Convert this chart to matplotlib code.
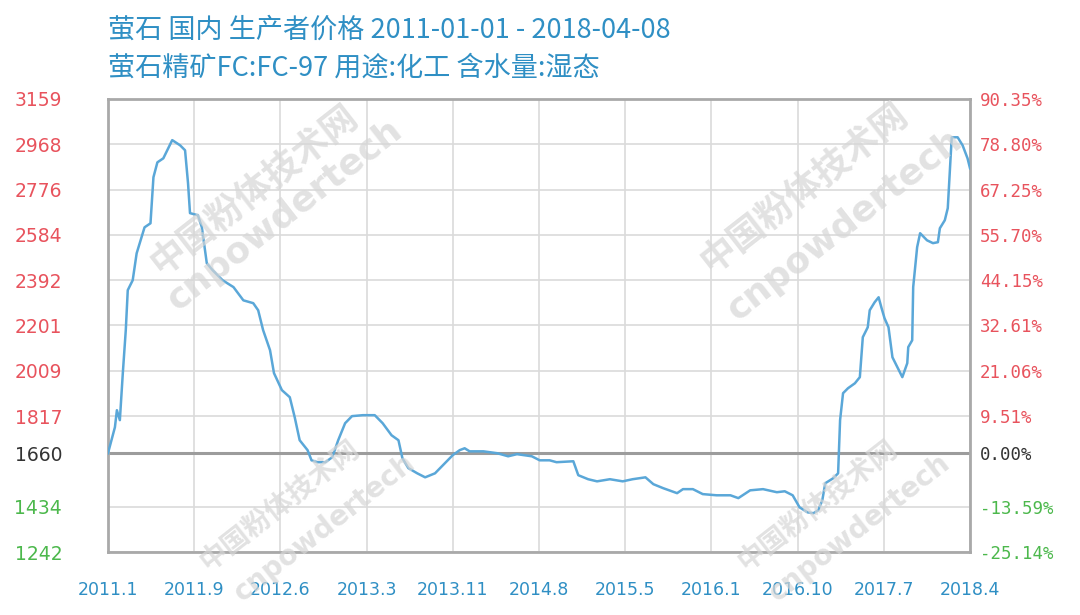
import matplotlib
matplotlib.use("Agg")
import matplotlib.pyplot as plt
import numpy as np

plt.rcParams['font.family'] = ['Noto Sans CJK SC', 'DejaVu Sans']

# ---- data -------------------------------------------------------------
title_line1 = "萤石 国内 生产者价格 2011-01-01 - 2018-04-08"
title_line2 = "萤石精矿FC:FC-97 用途:化工 含水量:湿态"

x_tick_labels = ["2011.1", "2011.9", "2012.6", "2013.3", "2013.11", "2014.8",
                 "2015.5", "2016.1", "2016.10", "2017.7", "2018.4"]
x_span_months = 87.25  # 2011-01-01 .. 2018-04-08

y_ticks = [1242, 1434, 1660, 1817, 2009, 2201, 2392, 2584, 2776, 2968, 3159]
y_base = 1660
right_labels = ["-25.14%", "-13.59%", "0.00%", "9.51%", "21.06%", "32.61%",
                "44.15%", "55.70%", "67.25%", "78.80%", "90.35%"]

# months since 2011-01-01
months = [0, 0.7, 0.9, 1.2, 1.5, 1.8, 2.0, 2.5, 2.9, 3.4, 3.7, 4.3, 4.6, 5.0,
          5.6, 6.0, 6.5, 7.3, 7.8, 8.1, 8.3, 9.1, 9.5, 10.0, 10.6, 11.6, 12.7,
          13.7, 14.7, 15.2, 15.7, 16.4, 16.8, 17.6, 18.4, 18.9, 19.4, 20.2,
          20.6, 21.2, 22.0, 22.7, 23.3, 24.0, 24.7, 25.8, 27.0, 27.8, 28.7,
          29.4, 29.8, 30.4, 31.3, 32.1, 33.1, 33.9, 34.9, 35.6, 36.1, 36.6,
          38.0, 39.4, 40.5, 41.4, 42.9, 43.7, 44.7, 45.4, 47.1, 47.6, 48.6,
          49.5, 50.8, 52.1, 53.1, 54.4, 55.2, 56.2, 57.6, 58.2, 59.2, 60.2,
          61.6, 63.0, 63.8, 65.0, 66.3, 67.7, 68.5, 69.3, 70.0, 70.8, 71.4,
          71.9, 72.3, 72.6, 73.4, 73.9, 74.1, 74.4, 74.9, 75.6, 76.1, 76.4,
          76.9, 77.1, 77.6, 78.0, 78.3, 78.6, 79.0, 79.4, 79.9, 80.4, 80.9,
          81.0, 81.4, 81.5, 81.9, 82.2, 82.9, 83.5, 84.0, 84.2, 84.7, 85.0,
          85.2, 85.4, 86.0, 86.5, 87.0, 87.25]
prices = [1660, 1770, 1842, 1800, 1999, 2181, 2350, 2392, 2506, 2574, 2616,
          2633, 2828, 2891, 2908, 2942, 2985, 2963, 2942, 2803, 2676, 2667,
          2616, 2464, 2434, 2392, 2363, 2307, 2295, 2265, 2181, 2096, 1999,
          1927, 1897, 1812, 1715, 1673, 1630, 1622, 1622, 1643, 1715, 1787,
          1817, 1821, 1821, 1787, 1736, 1715, 1639, 1597, 1575, 1558, 1575,
          1609, 1652, 1673, 1681, 1668, 1668, 1660, 1647, 1656, 1647, 1630,
          1630, 1622, 1626, 1567, 1550, 1541, 1550, 1541, 1550, 1558, 1529,
          1512, 1491, 1508, 1508, 1487, 1482, 1482, 1470, 1503, 1508, 1495,
          1499, 1482, 1431, 1410, 1406, 1419, 1461, 1533, 1554, 1575, 1800,
          1914, 1935, 1956, 1982, 2151, 2193, 2265, 2299, 2320, 2274, 2231,
          2193, 2066, 2024, 1982, 2041, 2109, 2138, 2363, 2532, 2591, 2561,
          2549, 2553, 2612, 2646, 2697, 2845, 2997, 2997, 2963, 2908, 2866]

# ---- styling ----------------------------------------------------------
line_color = "#5aa7d8"
title_color = "#2f8fc4"
red = "#e8535d"
green = "#4cb84c"
grid_color = "#dadada"
frame_color = "#a9a9a9"

fig = plt.figure(figsize=(10.8, 6.15), dpi=100)
ax = fig.add_axes([108/1080, 1-552/615, (970-108)/1080, (552-99)/615])

ax.plot(months, prices, color=line_color, lw=1.8, zorder=3)

ax.set_xlim(0, x_span_months)
ax.set_ylim(y_ticks[0], y_ticks[-1])

xt = np.linspace(0, x_span_months, len(x_tick_labels))
ax.set_xticks(xt)
ax.set_xticklabels(x_tick_labels, color="#2f8fc4", fontsize=12.5,
                   family=['DejaVu Sans'])
ax.tick_params(axis='x', length=0, pad=21)

ax.set_yticks(y_ticks)
ax.set_yticklabels([str(v) for v in y_ticks], fontsize=13.5,
                   family=['DejaVu Sans'])
ax.tick_params(axis='y', length=0, pad=33)
for lbl, v in zip(ax.get_yticklabels(), y_ticks):
    lbl.set_color(red if v > y_base else ("#333333" if v == y_base else green))

ax.grid(True, color=grid_color, lw=1.2, zorder=1)
ax.axhline(y_base, color="#9c9c9c", lw=2.2, zorder=2)
for s in ax.spines.values():
    s.set_color(frame_color)
    s.set_linewidth(2)

ax2 = ax.twinx()
ax2.set_ylim(ax.get_ylim())
ax2.set_yticks(y_ticks)
ax2.set_yticklabels(right_labels, fontsize=12.5, family=['DejaVu Sans Mono'])
ax2.tick_params(axis='y', length=0, pad=7)
for lbl, v in zip(ax2.get_yticklabels(), y_ticks):
    lbl.set_color(red if v > y_base else ("#333333" if v == y_base else green))
for s in ax2.spines.values():
    s.set_visible(False)

fig.text(108/1080, 1-30/615, title_line1, color=title_color, fontsize=19.5,
         va='center', ha='left')
fig.text(108/1080, 1-68/615, title_line2, color=title_color, fontsize=19.5,
         va='center', ha='left')

# watermarks
wm_color = "#d6d6d6"
wm_cn = "中国粉体技术网"
wm_en = "cnpowdertech"
for (cx, cy, ex, ey, fs) in [(255, 190, 285, 215, 26), (805, 188, 845, 225, 26),
                             (280, 505, 325, 528, 20), (818, 505, 860, 528, 20)]:
    fig.text(cx/1080, 1-cy/615, wm_cn, color=wm_color, fontsize=fs,
             fontweight='bold', rotation=38, ha='center', va='center',
             alpha=0.7, zorder=10)
    fig.text(ex/1080, 1-ey/615, wm_en, color=wm_color, fontsize=fs,
             fontweight='bold', rotation=38, ha='center', va='center',
             alpha=0.7, zorder=10, family=['DejaVu Sans'])

fig.savefig("out.png", dpi=100)
